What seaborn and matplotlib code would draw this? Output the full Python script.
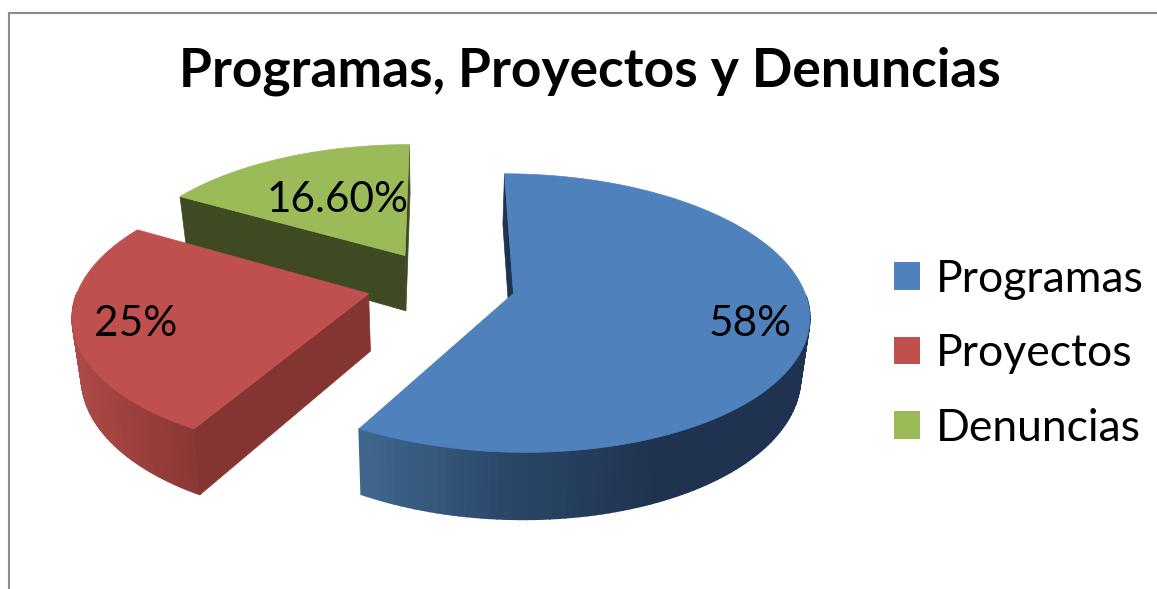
import numpy as np
import seaborn as sns
import matplotlib.pyplot as plt
from matplotlib.patches import Patch, Polygon

sns.set_theme(style="white")
plt.rcParams['font.family'] = ['Lato', 'DejaVu Sans']

categories = ["Programas", "Proyectos", "Denuncias"]
values = [58, 25, 16.6]
value_labels = ["58%", "25%", "16.60%"]
title = "Programas, Proyectos y Denuncias"

top_colors = ["#4f81bd", "#c0504d", "#9bbb59"]
# outer wall gradient, left to right, and flat cut faces
wall_colors = [["#40688f", "#2a4768", "#1f3350", "#1f3350"],
			   ["#ad4a47", "#9b403d", "#8a3735"],
			   ["#3f4a22", "#3f4a22"]]
cut_colors = ["#1f3350", "#843532", "#3f4a22"]

W, H = 1157, 589
explode = 0.257		# same for all slices
# projection of the pie plane to pixels
x0, y0, a, b, k = 441, 284.5, 289, 134, 0.14
depth = 57
shrink = 0.975
label_pos = [(750, 324), (136, 324), (338, 200)]

def project(u, v, lower=False):
	w = 1 + k * v
	x = a * u / w
	y = y0 - b * v / w
	if lower:
		return x0 + x * shrink, y + depth / w
	return x0 + x, y

fig = plt.figure(figsize=(W / 100, H / 100), dpi=100)
ax = fig.add_axes([9 / W, 0, 1 - 9 / W, 1 - 12.5 / H])
ax.set_xlim(9, W)
ax.set_ylim(H, 12.5)
ax.set_xticks([])
ax.set_yticks([])
sns.despine(ax=ax, top=False, left=False, right=True, bottom=True)
for side in ["top", "left"]:
	ax.spines[side].set_color("#8c8c8c")
	ax.spines[side].set_linewidth(1.5)

fractions = np.array(values) / np.sum(values)
ends = np.cumsum(fractions) * 2 * np.pi
starts = ends - fractions * 2 * np.pi

# far slices first, so the nearer ones cover them
for i in [2, 1, 0]:
	mid = (starts[i] + ends[i]) / 2
	cu, cv = explode * np.sin(mid), explode * np.cos(mid)
	t = np.linspace(starts[i], ends[i], 160)
	u = cu + np.sin(t)
	v = cv + np.cos(t)
	xt, yt = project(u, v)
	xb, yb = project(u, v, lower=True)
	apex_t = project(cu, cv)
	apex_b = project(cu, cv, lower=True)

	# outer wall, near half of the rim only
	pal = sns.blend_palette(wall_colors[i], 128)
	for j in range(len(t) - 1):
		if np.cos(t[j]) > 0:
			continue
		f = (xb[j] - xb.min()) / (xb.max() - xb.min())
		c = pal[int(f * 127)]
		ax.add_patch(Polygon([(xt[j], yt[j]), (xt[j + 1], yt[j + 1]), (xb[j + 1], yb[j + 1]), (xb[j], yb[j])],
							 facecolor=c, edgecolor=c, lw=1.2))

	# cut faces, only the ones turned to the viewer
	n_mid = len(t) // 2
	for e in [0, -1]:
		ex, ey = xt[e] - apex_t[0], yt[e] - apex_t[1]
		ix, iy = xt[n_mid] - apex_t[0], yt[n_mid] - apex_t[1]
		if ex * (ex * iy - ey * ix) < 0:
			ax.add_patch(Polygon([apex_t, (xt[e], yt[e]), (xb[e], yb[e]), apex_b],
								 facecolor=cut_colors[i], edgecolor=cut_colors[i], lw=0.5))

	# top face
	ax.add_patch(Polygon(np.vstack([apex_t, np.column_stack([xt, yt])]),
						 facecolor=top_colors[i], edgecolor=top_colors[i], lw=0.5))

for i in range(len(value_labels)):
	ax.text(label_pos[i][0], label_pos[i][1], value_labels[i], fontsize=30.5, color="black", ha="center", va="center")

ax.text(590, 87, title, fontsize=38.4, fontweight="bold", color="black", ha="center", va="baseline")

handles = [Patch(facecolor=top_colors[i], edgecolor="none", label=categories[i]) for i in range(len(categories))]
ax.legend(handles=handles, loc="center left", bbox_to_anchor=(0.771, 0.408), frameon=False, fontsize=32, labelcolor="black",
		  handlelength=0.585, handleheight=0.585, handletextpad=0.36, labelspacing=0.753, borderpad=0, borderaxespad=0)

fig.savefig("out.png", dpi=100)
